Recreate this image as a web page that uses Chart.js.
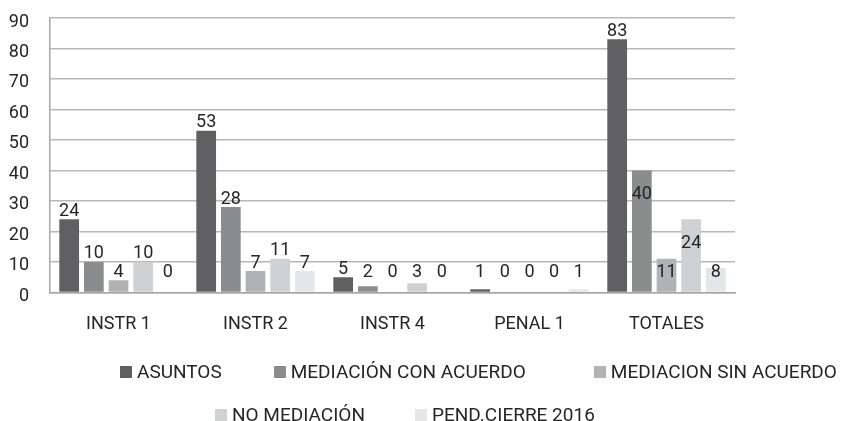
<!DOCTYPE html>
<html>
<head>
<meta charset="utf-8">
<script src="https://cdn.jsdelivr.net/npm/chart.js@4.4.1/dist/chart.umd.min.js"></script>
<style>
  html, body { margin: 0; padding: 0; background: #fff; }
  #wrap { position: relative; width: 841px; height: 421px; }
  #legend { position: absolute; left: 0; top: 0; width: 841px; font-family: Roboto, sans-serif; font-size: 19px; color: #262626; }
  .row { position: absolute; display: flex; align-items: center; white-space: nowrap; }
  .item { display: flex; align-items: center; }
  .box { width: 12px; height: 12px; margin-right: 5px; }
</style>
</head>
<body>
<div id="wrap">
  <canvas id="chart" width="841" height="421"></canvas>
  <div id="legend"></div>
</div>
<script>
const categories = ['INSTR 1', 'INSTR 2', 'INSTR 4', 'PENAL 1', 'TOTALES'];
const seriesNames = ['ASUNTOS', 'MEDIACIÓN CON ACUERDO', 'MEDIACION SIN ACUERDO', 'NO MEDIACIÓN', 'PEND.CIERRE 2016'];
const asuntos = [24, 53, 5, 1, 83];
const mediacionConAcuerdo = [10, 28, 2, 0, 40];
const mediacionSinAcuerdo = [4, 7, 0, 0, 11];
const noMediacion = [10, 11, 3, 0, 24];
const pendCierre = [0, 7, 0, 1, 8];
const yTicks = [0, 10, 20, 30, 40, 50, 60, 70, 80, 90];

const seriesValues = [asuntos, mediacionConAcuerdo, mediacionSinAcuerdo, noMediacion, pendCierre];
const colors = ['#606062', '#8b8c8e', '#b1b2b4', '#d0d1d3', '#e5e6e7'];

// labels in the TOTALES group were moved down in the original
const labelNudge = { '4-1': 32, '4-2': 22, '4-3': 32, '4-4': 12 };

const valueLabels = {
  id: 'valueLabels',
  afterDatasetsDraw(chart) {
    const ctx = chart.ctx;
    const zeroY = chart.scales.y.getPixelForValue(0);
    ctx.save();
    ctx.font = '18px Roboto, sans-serif';
    ctx.fillStyle = '#262626';
    ctx.textAlign = 'center';
    ctx.textBaseline = 'bottom';
    chart.data.datasets.forEach((ds, di) => {
      chart.getDatasetMeta(di).data.forEach((bar, i) => {
        let y = Math.min(bar.y, zeroY - 12);
        y += labelNudge[i + '-' + di] || 0;
        ctx.fillText(String(ds.data[i]), bar.x, y + 1);
      });
    });
    ctx.restore();
  }
};

new Chart(document.getElementById('chart'), {
  type: 'bar',
  data: {
    labels: categories,
    datasets: seriesNames.map((name, i) => ({
      label: name,
      data: seriesValues[i],
      backgroundColor: colors[i],
      categoryPercentage: 0.9,
      barPercentage: 0.8
    }))
  },
  options: {
    responsive: false,
    animation: false,
    layout: { padding: { top: 18, right: 106, bottom: 73, left: 0 } },
    plugins: {
      legend: { display: false },
      tooltip: { enabled: false }
    },
    scales: {
      x: {
        grid: { display: false },
        border: { display: true, color: '#a6a6a6', width: 1.5 },
        ticks: { font: { family: 'Roboto', size: 18 }, color: '#262626', padding: 13 }
      },
      y: {
        min: 0,
        max: 90,
        afterFit(scale) {
          scale.width = 50;
          scale.paddingTop = 0;
          scale.paddingBottom = 0;
        },
        afterBuildTicks(scale) { scale.ticks = yTicks.map(v => ({ value: v })); },
        grid: { color: '#b8b8b8', lineWidth: 1.5, drawTicks: false },
        border: { display: true, color: '#a6a6a6', width: 1.5 },
        ticks: { font: { family: 'Roboto', size: 18 }, color: '#262626', padding: 21, labelOffset: 4 }
      }
    }
  },
  plugins: [valueLabels]
});

// legend laid out in two rows like the original
const legend = document.getElementById('legend');
const rows = [
  { items: [0, 1, 2], left: 120, top: 360, gaps: [0, 52, 68] },
  { items: [3, 4], left: 215, top: 403, gaps: [0, 50] }
];
rows.forEach(r => {
  const row = document.createElement('div');
  row.className = 'row';
  row.style.left = r.left + 'px';
  row.style.top = r.top + 'px';
  r.items.forEach((i, k) => {
    const item = document.createElement('div');
    item.className = 'item';
    item.style.marginLeft = r.gaps[k] + 'px';
    item.innerHTML = '<span class="box" style="background:' + colors[i] + '"></span><span>' + seriesNames[i] + '</span>';
    row.appendChild(item);
  });
  legend.appendChild(row);
});
</script>
</body>
</html>
